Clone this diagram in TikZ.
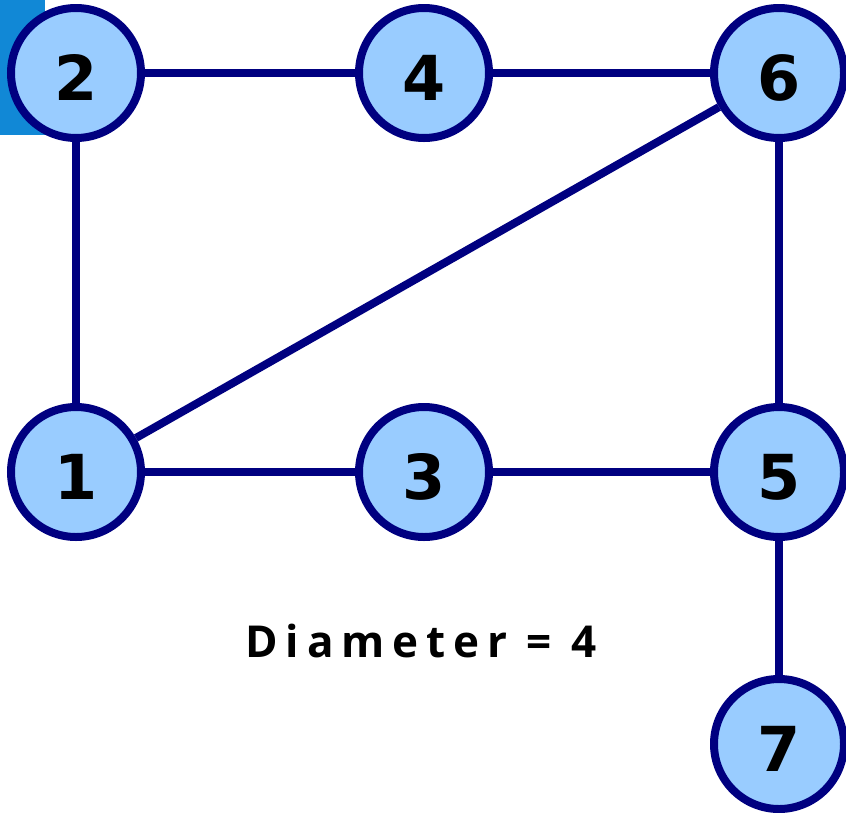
\documentclass[tikz,border=0pt]{standalone}
\usepackage{fontspec}
\newfontfamily\digitfont{DejaVu Sans}
\newfontfamily\labelfont{Open Sans}[LetterSpace=18]
\definecolor{navy}{RGB}{0,0,128}
\definecolor{nodefill}{RGB}{153,204,255}
\definecolor{cornerblue}{RGB}{17,136,214}
\begin{document}
\begin{tikzpicture}[x=1pt,y=-1pt,
  vertex/.style={circle,draw=navy,fill=nodefill,line width=8pt,minimum size=130pt,inner sep=0pt,text height=54pt,text depth=0pt,font=\digitfont\bfseries\fontsize{62}{62}\selectfont},
  edge/.style={draw=navy,line width=8pt}]
\useasboundingbox (0,0) rectangle (846,812);
\fill[cornerblue] (0,0) rectangle (45,135);
\node[vertex] (n2) at (76,73) {2};
\node[vertex] (n4) at (424,73) {4};
\node[vertex] (n6) at (779,73) {6};
\node[vertex] (n1) at (76,472) {1};
\node[vertex] (n3) at (424,472) {3};
\node[vertex] (n5) at (779,472) {5};
\node[vertex] (n7) at (779,744) {7};
\path[edge] (n2) -- (n4);
\path[edge] (n4) -- (n6);
\path[edge] (n2) -- (n1);
\path[edge] (n1) -- (n6);
\path[edge] (n6) -- (n5);
\path[edge] (n1) -- (n3);
\path[edge] (n3) -- (n5);
\path[edge] (n5) -- (n7);
\node[anchor=base,font=\labelfont\bfseries\fontsize{44}{44}\selectfont,inner sep=0pt] (diam) at (421,657) {Diameter = 4};
\end{tikzpicture}
\end{document}
